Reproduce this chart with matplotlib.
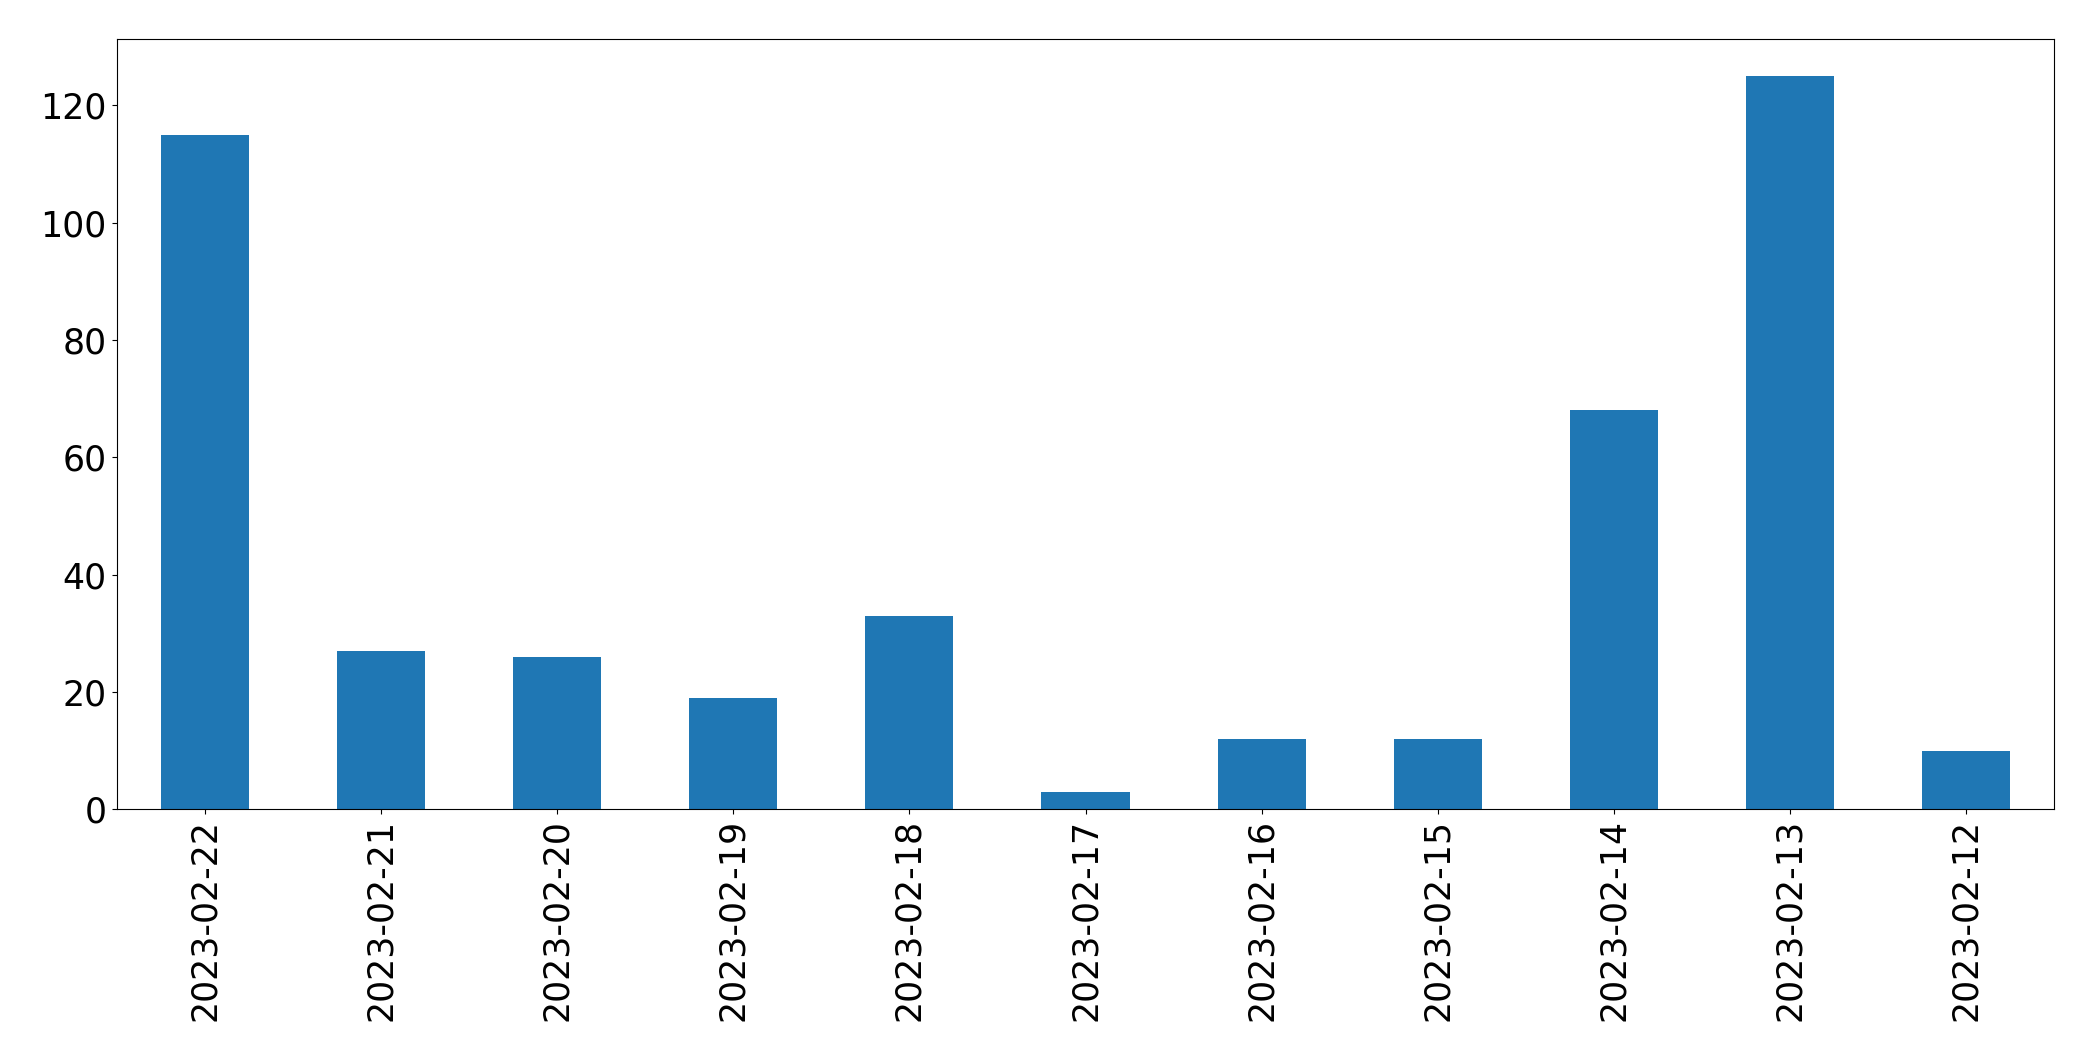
import matplotlib
matplotlib.use("Agg")
import matplotlib.pyplot as plt

dates = ["2023-02-22", "2023-02-21", "2023-02-20", "2023-02-19", "2023-02-18",
         "2023-02-17", "2023-02-16", "2023-02-15", "2023-02-14", "2023-02-13",
         "2023-02-12"]
counts = [115, 27, 26, 19, 33, 3, 12, 12, 68, 125, 10]

fig = plt.figure(figsize=(20.93, 10.61), dpi=100)
ax = fig.add_axes([0.0557, 0.2372, 0.9816 - 0.0557, 0.963 - 0.2372])
x = list(range(len(dates)))
ax.bar(x, counts, width=0.5, color="#1f77b4")
ax.set_xlim(-0.5, len(dates) - 0.5)
ax.set_ylim(0, max(counts) * 1.05)
ax.set_xticks(x)
ax.set_xticklabels(dates, rotation=90)
ax.tick_params(axis="both", labelsize=25)
fig.savefig("out.png", dpi=100)
